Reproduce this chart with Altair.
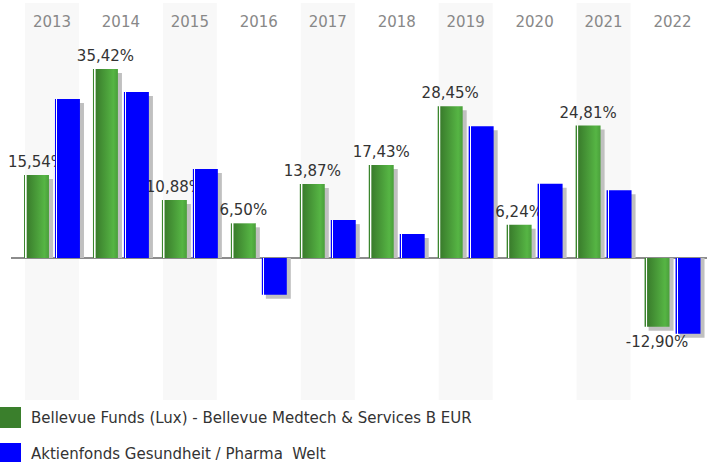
import altair as alt
import pandas as pd

years = ["2013", "2014", "2015", "2016", "2017", "2018", "2019", "2020", "2021", "2022"]
fund_name = "Bellevue Funds (Lux) - Bellevue Medtech & Services B EUR"
peer_name = "Aktienfonds Gesundheit / Pharma\u00a0 Welt"
fund_values = [15.54, 35.42, 10.88, 6.50, 13.87, 17.43, 28.45, 6.24, 24.81, -12.90]
peer_values = [29.8, 31.1, 16.7, -6.9, 7.1, 4.5, 24.7, 13.9, 12.7, -14.2]
shaded_years = ["2013", "2015", "2017", "2019", "2021"]

rows = []
for y, f, p in zip(years, fund_values, peer_values):
    rows.append({"year": y, "series": fund_name, "value": f})
    rows.append({"year": y, "series": peer_name, "value": p})
df = pd.DataFrame(rows)
bands = pd.DataFrame({"year": shaded_years})
zero = pd.DataFrame({"value": [0]})

FONT = "DejaVu Sans"
series_domain = [fund_name, peer_name]
LEFT = 17.5

x_enc = alt.X("year:N", sort=years,
              scale=alt.Scale(domain=years, paddingInner=0, paddingOuter=0),
              axis=alt.Axis(orient="top", title=None, domain=False, ticks=False, grid=False,
                            labelAngle=0, labelFont=FONT, labelFontSize=15, labelColor="#888888",
                            labelBaseline="alphabetic", labelPadding=2, offset=-28,
                            labelOverlap=False, zindex=1))
y_scale = alt.Scale(domain=[-20, 40], range=[258 + 20 * 5.336, 258 - 40 * 5.336], nice=False, zero=False)
y_enc = alt.Y("value:Q", scale=y_scale, axis=None)
xo_enc = alt.XOffset("series:N", scale=alt.Scale(domain=series_domain, paddingInner=0.194, paddingOuter=0.21))
xo_shadow = alt.XOffset("series:N", scale=alt.Scale(domain=series_domain, paddingInner=0.194,
                                                    paddingOuter=0.21, align=0.81))

band_layer = alt.Chart(bands).mark_bar(color="#f8f8f8", width=alt.RelativeBandSize(54 / 69)).encode(
    x=x_enc, y=alt.value(3), y2=alt.value(400)
)

zero_layer = alt.Chart(zero).mark_rule(color="#666666", strokeWidth=1.5).encode(
    x=alt.value(11 - LEFT), x2=alt.value(707 - LEFT), y=y_enc
)

shadow = alt.Chart(df).mark_bar(color="#c0c0c0", yOffset=4, y2Offset=0).encode(
    x=x_enc, xOffset=xo_shadow, y=y_enc, y2=alt.datum(0)
)

green_grad = alt.Gradient(
    gradient="linear", x1=0, x2=1, y1=0, y2=0,
    stops=[
        alt.GradientStop(color="#3b862e", offset=0),
        alt.GradientStop(color="#3b862e", offset=0.05),
        alt.GradientStop(color="#ffffff", offset=0.05),
        alt.GradientStop(color="#ffffff", offset=0.09),
        alt.GradientStop(color="#3a7d2c", offset=0.12),
        alt.GradientStop(color="#56b544", offset=0.82),
        alt.GradientStop(color="#4a9f3b", offset=1),
    ],
)
blue_grad = alt.Gradient(
    gradient="linear", x1=0, x2=1, y1=0, y2=0,
    stops=[
        alt.GradientStop(color="#0000ff", offset=0),
        alt.GradientStop(color="#0000ff", offset=0.05),
        alt.GradientStop(color="#ffffff", offset=0.05),
        alt.GradientStop(color="#ffffff", offset=0.1),
        alt.GradientStop(color="#0000ff", offset=0.1),
        alt.GradientStop(color="#0000ff", offset=1),
    ],
)

green_bars = alt.Chart(df).transform_filter(alt.datum.series == fund_name).mark_bar(color=green_grad).encode(
    x=x_enc, xOffset=xo_enc, y=y_enc, y2=alt.datum(0)
)
blue_bars = alt.Chart(df).transform_filter(alt.datum.series == peer_name).mark_bar(color=blue_grad).encode(
    x=x_enc, xOffset=xo_enc, y=y_enc, y2=alt.datum(0)
)

label_calc = "(datum.value < 0 ? '-' : '') + replace(format(abs(datum.value), '.2f'), '.', ',') + '%'"
pos_labels = alt.Chart(df).transform_filter(
    (alt.datum.series == fund_name) & (alt.datum.value >= 0)
).transform_calculate(label=label_calc).mark_text(
    font=FONT, fontSize=15, color="#333333", baseline="alphabetic", dy=-8
).encode(x=x_enc, xOffset=xo_enc, y=y_enc, text="label:N")

neg_labels = alt.Chart(df).transform_filter(
    (alt.datum.series == fund_name) & (alt.datum.value < 0)
).transform_calculate(label=label_calc).mark_text(
    font=FONT, fontSize=15, color="#333333", baseline="top", dy=8
).encode(x=x_enc, xOffset=xo_enc, y=y_enc, text="label:N")

legend_layer = alt.Chart(df).mark_square(opacity=0).encode(
    x=x_enc, xOffset=xo_enc, y=y_enc,
    color=alt.Color("series:N", scale=alt.Scale(domain=series_domain, range=["#3a7f2c", "#0000ff"]),
                    legend=alt.Legend(orient="none", legendX=-LEFT, legendY=407, title=None,
                                      symbolType="square", symbolSize=441, symbolOpacity=1,
                                      symbolStrokeWidth=0, labelFont=FONT, labelFontSize=15,
                                      labelColor="#333333", labelOffset=10, rowPadding=15,
                                      padding=0, labelLimit=600))
)

main = alt.layer(pos_labels, neg_labels, green_bars, blue_bars, legend_layer)
back = alt.layer(band_layer, zero_layer, shadow)

chart = alt.layer(back, main).resolve_scale(xOffset="independent").properties(
    width=707 - LEFT, height=462, autosize=alt.AutoSizeParams(type="none"),
    padding={"left": LEFT, "top": 0, "right": 0, "bottom": 0}
).configure_view(stroke=None)

chart.save("out.html", embed_options={"renderer": "svg", "actions": False})
